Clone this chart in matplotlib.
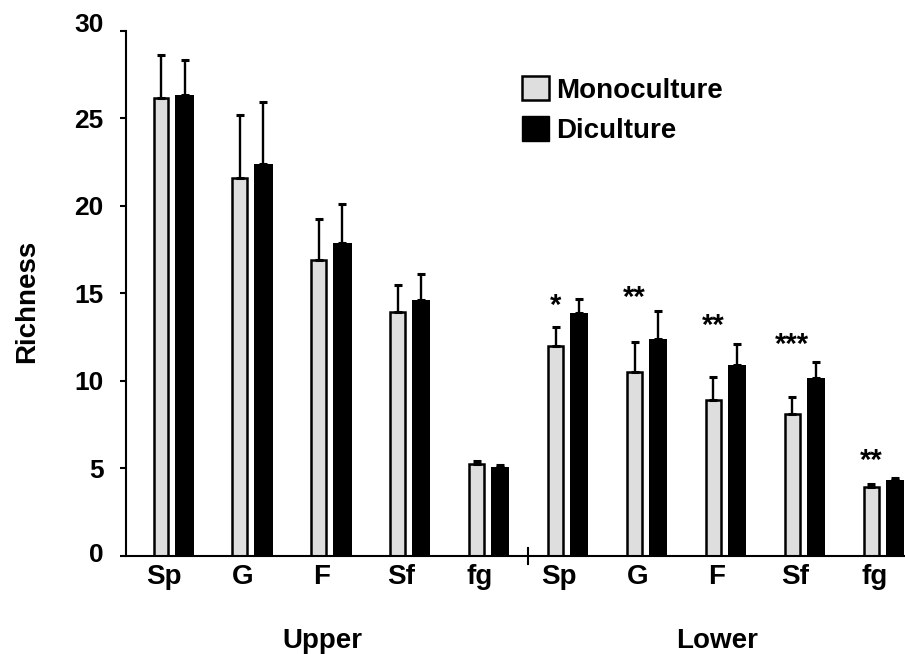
import matplotlib
matplotlib.use("Agg")
import matplotlib.pyplot as plt
from matplotlib.patches import Patch
from matplotlib.transforms import ScaledTranslation, blended_transform_factory
import numpy as np

plt.rcParams["font.family"] = ["Liberation Sans", "DejaVu Sans"]
plt.rcParams["font.weight"] = "bold"

# Richness per trait level, upper and lower layers
categories = ["Sp", "G", "F", "Sf", "fg", "Sp", "G", "F", "Sf", "fg"]
layers = ["Upper", "Lower"]
mono = [26.16, 21.59, 16.90, 13.92, 5.25, 11.98, 10.51, 8.93, 8.09, 3.92]
mono_err = [2.47, 3.60, 2.37, 1.54, 0.16, 1.12, 1.71, 1.28, 0.97, 0.19]
di = [26.35, 22.41, 17.86, 14.60, 5.08, 13.88, 12.38, 10.93, 10.18, 4.36]
di_err = [2.00, 3.50, 2.26, 1.49, 0.14, 0.82, 1.63, 1.20, 0.90, 0.11]
stars = ["", "", "", "", "", "*", "**", "**", "***", "**"]
star_y = [0, 0, 0, 0, 0, 13.85, 14.29, 12.66, 11.58, 4.95]
yticks = [0, 5, 10, 15, 20, 25, 30]

fig = plt.figure(figsize=(9.05, 6.54), dpi=100)
ax = fig.add_axes([126 / 905, 98 / 654, 779 / 905, 525.3 / 654])

x = np.arange(len(categories))
offset = 0.298
mono_color = "#dedede"

ax.bar(x, mono, width=0.19, color=mono_color, edgecolor="black",
       linewidth=1.8, zorder=2)
ax.bar(x + offset, di, width=0.232, color="black", edgecolor="black",
       linewidth=0, zorder=2)

zeros = np.zeros(len(x))
ax.errorbar(x, mono, yerr=[zeros, mono_err], fmt="none", ecolor="black",
            elinewidth=1.7, capsize=2.8, capthick=2.2, zorder=3)
ax.errorbar(x + offset, di, yerr=[zeros, di_err], fmt="none", ecolor="black",
            elinewidth=1.7, capsize=2.8, capthick=2.2, zorder=3)

for xi, s, sy in zip(x, stars, star_y):
    if s:
        ax.text(xi, sy, s, ha="center", va="baseline", fontsize=21,
                fontweight="bold")

ax.set_xlim(-0.4435, 9.427)
ax.set_ylim(0, 30)

ax.spines["top"].set_visible(False)
ax.spines["right"].set_visible(False)
ax.spines["left"].set_linewidth(1.5)
ax.spines["bottom"].set_linewidth(1.5)

ax.set_yticks(yticks)
ax.set_yticklabels([str(t) for t in yticks])
ax.tick_params(axis="y", direction="out", length=4, width=1.5, pad=12,
               labelsize=19)
# end labels sit slightly above their ticks
labels = ax.get_yticklabels()
for lab, up in ((labels[0], 3), (labels[-1], 8)):
    lab.set_transform(lab.get_transform()
                      + ScaledTranslation(0, up / 100, fig.dpi_scale_trans))

ax.set_xticks(x + 0.04)
ax.set_xticklabels(categories)
ax.tick_params(axis="x", length=0, pad=6, labelsize=20)

# separator between the two layers
ax.plot([4.646, 4.646], [-0.46, 0.46], color="black", lw=1.5,
        clip_on=False, zorder=4)

trans = blended_transform_factory(ax.transData, fig.transFigure)
for name, gx in zip(layers, [2.05, 7.045]):
    ax.text(gx, 6 / 654, name, transform=trans, ha="center", va="baseline",
            fontsize=20, fontweight="bold")

fig.text(27 / 905, 1 - 301 / 654, "Richness", rotation=90, ha="center",
         va="center", fontsize=20, fontweight="bold")

handles = [Patch(facecolor=mono_color, edgecolor="black", linewidth=1.8,
                 label="Monoculture"),
           Patch(facecolor="black", edgecolor="black", label="Diculture")]
fig.legend(handles=handles, loc="upper left",
           bbox_to_anchor=(522 / 905, 1 - 76 / 654), frameon=False,
           handlelength=0.97, handleheight=0.97,
           handletextpad=0.25, labelspacing=0.45, borderpad=0,
           borderaxespad=0, prop={"weight": "bold", "size": 20})

fig.savefig("out.png", dpi=100)
